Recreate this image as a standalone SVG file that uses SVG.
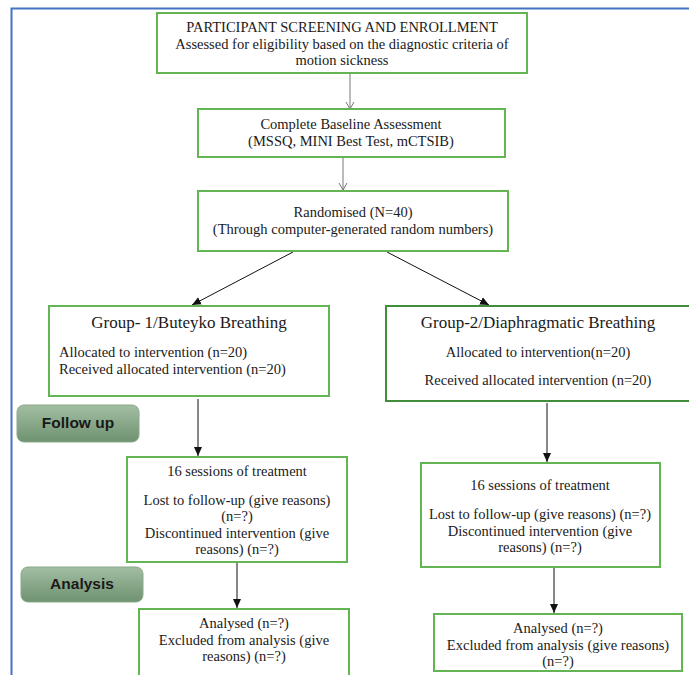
<svg xmlns="http://www.w3.org/2000/svg" width="689" height="675" viewBox="0 0 689 675">
<style>
.box{fill:#fff;stroke:#62b552;stroke-width:2}
.box2{fill:#fff;stroke:#3f8f3a;stroke-width:2}
.t{font-family:"Liberation Serif","Times New Roman",serif;font-size:14.5px;fill:#1a1a1a}
.c{text-anchor:middle}
.h{font-size:17px}
.pill{fill:url(#pg);stroke:#8aa88a;stroke-width:1}
.pt{font-family:"Liberation Sans",Arial,sans-serif;font-size:15.5px;font-weight:bold;fill:#1a1a1a;text-anchor:middle}
.gl{stroke:#777;stroke-width:1;fill:none}
.bl{stroke:#111;stroke-width:1;fill:none}
</style>
<defs>
<linearGradient id="pg" x1="0" y1="0" x2="0" y2="1">
<stop offset="0" stop-color="#a3bea3"/>
<stop offset="1" stop-color="#6e9270"/>
</linearGradient>
<marker id="open" markerWidth="10" markerHeight="10" refX="8" refY="5" orient="auto" markerUnits="userSpaceOnUse">
<path d="M1,1 L8,5 L1,9" fill="none" stroke="#777" stroke-width="1"/>
</marker>
<marker id="fill" markerWidth="10" markerHeight="10" refX="9" refY="5" orient="auto" markerUnits="userSpaceOnUse">
<path d="M0,1 L9,5 L0,9 Z" fill="#111"/>
</marker>
</defs>
<rect width="689" height="675" fill="#fff"/>
<g id="frame">
<path d="M11.5,675 L11.5,8.5 L689,8.5" fill="none" stroke="#4472c4" stroke-width="2"/>
</g>
<g id="connectors">
<line class="gl" x1="350" y1="73" x2="350" y2="109" marker-end="url(#open)"/>
<line class="gl" x1="343" y1="158" x2="343" y2="190" marker-end="url(#open)"/>
<line class="bl" x1="293" y1="252" x2="192" y2="305" marker-end="url(#fill)"/>
<line class="bl" x1="387" y1="252" x2="489" y2="305" marker-end="url(#fill)"/>
<line class="bl" x1="198" y1="399" x2="198" y2="456" marker-end="url(#fill)"/>
<line class="bl" x1="237" y1="546" x2="237" y2="608" marker-end="url(#fill)"/>
<line class="bl" x1="547" y1="403" x2="547" y2="462" marker-end="url(#fill)"/>
<line class="bl" x1="554" y1="549" x2="554" y2="613" marker-end="url(#fill)"/>
</g>
<g id="screening">
<rect class="box" x="157" y="13" width="370" height="60"/>
<text class="t c" x="342" y="32">PARTICIPANT SCREENING AND ENROLLMENT</text>
<text class="t c" x="342" y="49">Assessed for eligibility based on the diagnostic criteria of</text>
<text class="t c" x="342" y="65">motion sickness</text>
</g>
<g id="baseline">
<rect class="box" x="198" y="109" width="307" height="48"/>
<text class="t c" x="351" y="129">Complete Baseline Assessment</text>
<text class="t c" x="351" y="146">(MSSQ, MINI Best Test, mCTSIB)</text>
</g>
<g id="randomised">
<rect class="box" x="198" y="191" width="310" height="60"/>
<text class="t c" x="353" y="217">Randomised (N=40)</text>
<text class="t c" x="353" y="234">(Through computer-generated random numbers)</text>
</g>
<g id="group1">
<rect class="box" x="49" y="306" width="280" height="90"/>
<text class="t h c" x="189" y="328">Group- 1/Buteyko Breathing</text>
<text class="t" x="59" y="357">Allocated to intervention (n=20)</text>
<text class="t" x="59" y="374">Received allocated intervention (n=20)</text>
</g>
<g id="group2">
<rect class="box2" x="386" y="306" width="310" height="95"/>
<text class="t h c" x="538" y="328">Group-2/Diaphragmatic Breathing</text>
<text class="t c" x="538" y="357">Allocated to intervention(n=20)</text>
<text class="t c" x="538" y="385">Received allocated intervention (n=20)</text>
</g>
<g id="followup">
<rect class="pill" x="17" y="405" width="122" height="37" rx="7"/>
<text class="pt" x="78" y="428">Follow up</text>
</g>
<g id="treatment1">
<rect class="box" x="127" y="457" width="220" height="105"/>
<text class="t c" x="237" y="476">16 sessions of treatment</text>
<text class="t c" x="237" y="505">Lost to follow-up (give reasons)</text>
<text class="t c" x="237" y="521">(n=?)</text>
<text class="t c" x="237" y="538">Discontinued intervention (give</text>
<text class="t c" x="237" y="554">reasons) (n=?)</text>
</g>
<g id="analysis">
<rect class="pill" x="21" y="567" width="122" height="35" rx="7"/>
<text class="pt" x="82" y="589">Analysis</text>
</g>
<g id="analysed1">
<rect class="box" x="139" y="609" width="210" height="70"/>
<text class="t c" x="244" y="628">Analysed (n=?)</text>
<text class="t c" x="244" y="645">Excluded from analysis (give</text>
<text class="t c" x="244" y="661">reasons) (n=?)</text>
</g>
<g id="treatment2">
<rect class="box" x="421" y="463" width="239" height="104"/>
<text class="t c" x="540" y="490">16 sessions of treatment</text>
<text class="t c" x="540" y="519">Lost to follow-up (give reasons) (n=?)</text>
<text class="t c" x="540" y="536">Discontinued intervention (give</text>
<text class="t c" x="540" y="552">reasons) (n=?)</text>
</g>
<g id="analysed2">
<rect class="box" x="434" y="614" width="248" height="57"/>
<text class="t c" x="558" y="633">Analysed (n=?)</text>
<text class="t c" x="558" y="650">Excluded from analysis (give reasons)</text>
<text class="t c" x="558" y="666">(n=?)</text>
</g>
</svg>
